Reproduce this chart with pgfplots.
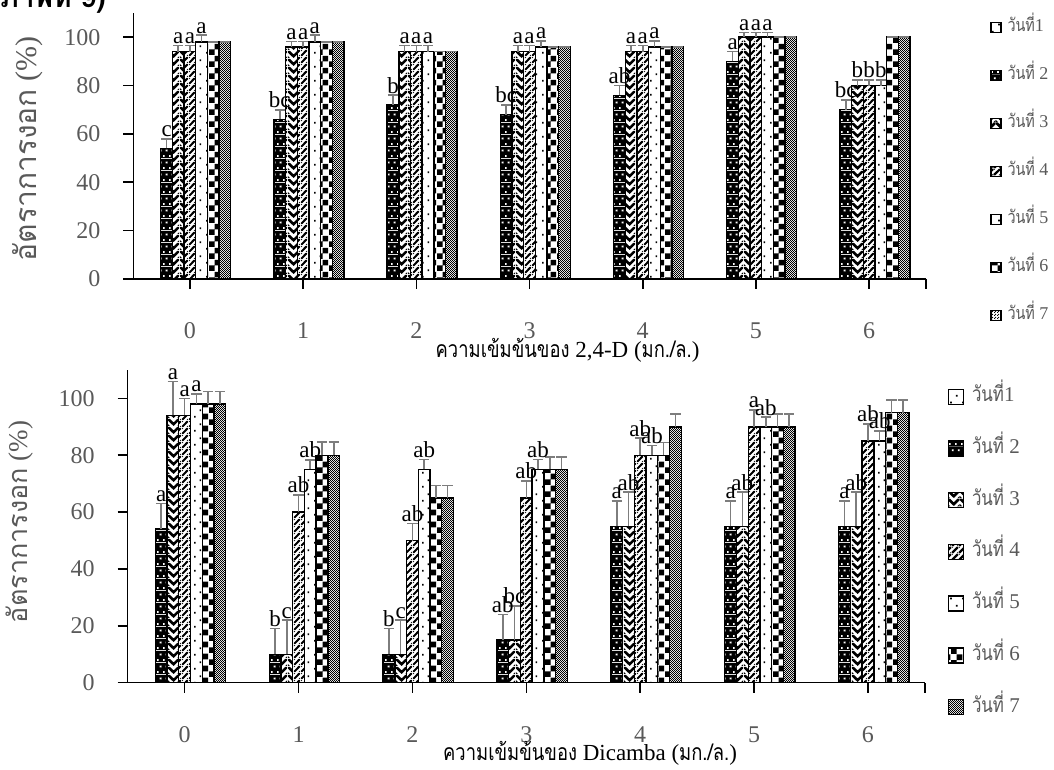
\documentclass[border=0pt]{standalone}
\usepackage{fontspec}
\setmainfont{Liberation Serif}
\newfontfamily\thai[Script=Thai]{Loma}
\usepackage{graphicx}
\usepackage{pgfplots}
\pgfplotsset{compat=1.18}
\usepackage{pgfplotstable}
\usetikzlibrary{patterns}

\definecolor{tg}{RGB}{89,89,89}
\definecolor{eg}{RGB}{125,125,125}

\newcommand{\tht}[1]{\scalebox{0.8}[1]{\thai #1}}
\newcommand{\wanthi}[1]{\tht{วันที่}#1}

\pgfdeclarepatternformonly{sparsedots}{\pgfpointorigin}{\pgfqpoint{6pt}{7pt}}{\pgfqpoint{6pt}{7pt}}{%
  \pgfpathrectangle{\pgfqpoint{1.1pt}{1.3pt}}{\pgfqpoint{0.9pt}{0.9pt}}%
  \pgfpathrectangle{\pgfqpoint{4.1pt}{4.8pt}}{\pgfqpoint{0.9pt}{0.9pt}}%
  \pgfusepath{fill}%
}
\pgfdeclarepatterninherentlycolored{blackdots}{\pgfpointorigin}{\pgfqpoint{3pt}{6pt}}{\pgfqpoint{3pt}{6pt}}{%
  \pgfsetfillcolor{black}%
  \pgfpathrectangle{\pgfpointorigin}{\pgfqpoint{3pt}{6pt}}%
  \pgfusepath{fill}%
  \pgfsetfillcolor{white}%
  \pgfpathrectangle{\pgfqpoint{0.6pt}{0.6pt}}{\pgfqpoint{0.9pt}{0.9pt}}%
  \pgfpathrectangle{\pgfqpoint{2.1pt}{3.6pt}}{\pgfqpoint{0.9pt}{0.9pt}}%
  \pgfusepath{fill}%
}
% zig zag (chevrons)
\pgfdeclarepatternformonly{zigzag}{\pgfpointorigin}{\pgfqpoint{6pt}{4pt}}{\pgfqpoint{6pt}{4pt}}{%
  \pgfpathmoveto{\pgfqpoint{0pt}{3pt}}%
  \pgfpathlineto{\pgfqpoint{3pt}{0pt}}%
  \pgfpathlineto{\pgfqpoint{6pt}{3pt}}%
  \pgfpathlineto{\pgfqpoint{6pt}{4pt}}%
  \pgfpathlineto{\pgfqpoint{5pt}{4pt}}%
  \pgfpathlineto{\pgfqpoint{3pt}{2pt}}%
  \pgfpathlineto{\pgfqpoint{1pt}{4pt}}%
  \pgfpathlineto{\pgfqpoint{0pt}{4pt}}%
  \pgfpathclose%
  \pgfpathmoveto{\pgfqpoint{0pt}{0pt}}%
  \pgfpathlineto{\pgfqpoint{1pt}{0pt}}%
  \pgfpathlineto{\pgfqpoint{0pt}{1pt}}%
  \pgfpathclose%
  \pgfpathmoveto{\pgfqpoint{5pt}{0pt}}%
  \pgfpathlineto{\pgfqpoint{6pt}{0pt}}%
  \pgfpathlineto{\pgfqpoint{6pt}{1pt}}%
  \pgfpathclose%
  \pgfusepath{fill}%
}
\pgfdeclarepatternformonly{wup}{\pgfpointorigin}{\pgfqpoint{3.5pt}{3.5pt}}{\pgfqpoint{3.5pt}{3.5pt}}{%
  \pgfpathmoveto{\pgfqpoint{0pt}{0pt}}%
  \pgfpathlineto{\pgfqpoint{0.85pt}{0pt}}%
  \pgfpathlineto{\pgfqpoint{3.5pt}{2.65pt}}%
  \pgfpathlineto{\pgfqpoint{3.5pt}{3.5pt}}%
  \pgfpathlineto{\pgfqpoint{2.65pt}{3.5pt}}%
  \pgfpathlineto{\pgfqpoint{0pt}{0.85pt}}%
  \pgfpathclose%
  \pgfpathmoveto{\pgfqpoint{2.65pt}{0pt}}%
  \pgfpathlineto{\pgfqpoint{3.5pt}{0pt}}%
  \pgfpathlineto{\pgfqpoint{3.5pt}{0.85pt}}%
  \pgfpathclose%
  \pgfpathmoveto{\pgfqpoint{0pt}{2.65pt}}%
  \pgfpathlineto{\pgfqpoint{0.85pt}{3.5pt}}%
  \pgfpathlineto{\pgfqpoint{0pt}{3.5pt}}%
  \pgfpathclose%
  \pgfusepath{fill}%
}
\pgfdeclarepatternformonly{bigcheck}{\pgfpointorigin}{\pgfqpoint{5.8pt}{5.8pt}}{\pgfqpoint{5.8pt}{5.8pt}}{%
  \pgfpathrectangle{\pgfpointorigin}{\pgfqpoint{2.9pt}{2.9pt}}%
  \pgfpathrectangle{\pgfqpoint{2.9pt}{2.9pt}}{\pgfqpoint{2.9pt}{2.9pt}}%
  \pgfusepath{fill}%
}
\pgfdeclarepatternformonly{finecheck}{\pgfpointorigin}{\pgfqpoint{1.2pt}{1.2pt}}{\pgfqpoint{1.2pt}{1.2pt}}{%
  \pgfpathrectangle{\pgfpointorigin}{\pgfqpoint{0.6pt}{0.6pt}}%
  \pgfpathrectangle{\pgfqpoint{0.6pt}{0.6pt}}{\pgfqpoint{0.6pt}{0.6pt}}%
  \pgfusepath{fill}%
}

% 2,4-D panel: values (%), errors, letters
\pgfplotstableread{
x d1 d2 d3 d4 d5 d6 d7 e2 e3 e4 e5 e6 e7 l2 l3 l4 l5
0 0 54 94 94 98 98 98 4 2.5 2.5 2.8 0 0 c a a a
1 0 66 96 96 98 98 98 4 2.2 2.2 2.8 0 0 bc a a a
2 0 72 94 94 94 94 94 4 2.5 2.5 2.5 0 0 b a a a
3 0 68 94 94 96 96 96 4 2.5 2.5 2.5 0 0 bc a a a
4 0 76 94 94 96 96 96 4 2.5 2.5 2.5 0 0 ab a a a
5 0 90 100 100 100 100 100 4 2 2 2 0 0 a a a a
6 0 70 80 80 80 100 100 4 2.3 2.3 2.3 0 0 bc b b b
}\tabA

% Dicamba panel
\pgfplotstableread{
x d1 d2 d3 d4 d5 d6 d7 e2 e3 e4 e5 e6 e7 l2 l3 l4 l5
0 0 54 94 94 98 98 98 9 12 6 3.6 4.5 4.5 a a a a
1 0 10 10 60 75 80 80 9 12 6 3.4 4.6 4.6 b c ab ab
2 0 10 10 50 75 65 65 9 12 6 3.5 4.4 4.4 b c ab ab
3 0 15 15 65 75 75 75 9 12 6 3.5 4.3 4.3 ab bc ab ab
4 0 55 55 80 80 80 90 9 12 6 3.4 4.5 4.5 a ab ab ab
5 0 55 55 90 90 90 90 9 12 6 3.4 4.5 4.5 a ab a ab
6 0 55 55 85 85 95 95 9 12 6 3.5 4.4 4.4 a ab ab ab
}\tabB

\pgfplotsset{
  panel/.style={
    scale only axis, anchor=south west,
    ybar=0pt, bar width=0.103,
    xmin=-0.5, xmax=6.5, ymin=0, ymax=110,
    axis x line*=bottom, axis y line*=left,
    xtick={0,1,2,3,4,5,6},
    extra x ticks={6.5}, extra x tick labels={},
    ytick={0,20,40,60,80,100},
    tick align=outside, major tick length=5pt,
    tick style={black, line width=0.8pt},
    axis line style={black, line width=0.8pt},
    /pgf/number format/assume math mode=true,
    ticklabel style={font=\fontsize{12}{14}\selectfont, text=tg},
    xticklabel style={anchor=center, yshift=-21pt},
    yticklabel style={xshift=-8pt},
    legend cell align=left,
  },
  bs/.style={draw=black, line width=0.7pt},
  eb/.style={error bars/y dir=plus, error bars/y explicit,
     error bars/error bar style={eg, line width=0.8pt},
     error bars/error mark options={rotate=90, eg, mark size=2.6pt, line width=0.8pt}},
  lab/.style={nodes near coords, point meta=explicit symbolic,
     visualization depends on={\thisrow{#1}\as\myerr},
     every node near coord/.append style={shift={(axis direction cs:0,\myerr)},
       font=\fontsize{11.5}{12}\selectfont, text=black, inner sep=0.6pt,
       fill=none, draw=none}},
}

\begin{document}
\begin{tikzpicture}
\useasboundingbox (0,0) rectangle (527pt,385pt);
\node[anchor=base west, inner sep=0pt, font=\thai\bfseries\fontsize{14}{16}\selectfont] at (0pt,381pt) {ภาพที่ 9)};

\begin{axis}[panel, at={(66.67pt,245.5pt)}, width=396.2pt, height=133pt,
  xlabel={\tht{ความเข้มข้นของ} 2,4-D (\tht{มก./ล.})},
  xlabel style={at={(axis description cs:0.548,-0.2955)}, anchor=base, font=\fontsize{11.5}{14}\selectfont, text=black},
  ylabel={{\thai อัตราการงอก} (\%)},
  ylabel style={at={(axis description cs:-0.133,0.489)}, anchor=center, font=\fontsize{15}{17}\selectfont, text=tg},
  legend style={at={(1.081,0.405)}, anchor=west, draw=none, fill=none, inner sep=0pt,
    column sep=3pt, row sep=14pt, font=\fontsize{9}{10}\selectfont,
    nodes={inner sep=0pt, text height=7pt, text depth=3pt, text=tg}},
  legend image code/.code={\draw[#1, line width=0.6pt] (0pt,-2.5pt) rectangle (5pt,2.5pt);},
]
\addplot[bs, pattern=sparsedots] table[x=x,y=d1]{\tabA};
\addplot[bs, pattern=blackdots, eb, lab=e2] table[x=x,y=d2,y error=e2,meta=l2]{\tabA};
\addplot[bs, pattern=zigzag, eb, lab=e3] table[x=x,y=d3,y error=e3,meta=l3]{\tabA};
\addplot[bs, pattern=wup, eb, lab=e4] table[x=x,y=d4,y error=e4,meta=l4]{\tabA};
\addplot[bs, pattern=sparsedots, eb, lab=e5] table[x=x,y=d5,y error=e5,meta=l5]{\tabA};
\addplot[bs, pattern=bigcheck, eb] table[x=x,y=d6,y error=e6]{\tabA};
\addplot[bs, pattern=finecheck, eb] table[x=x,y=d7,y error=e7]{\tabA};
\legend{\wanthi{1},\wanthi{ 2},\wanthi{ 3},\wanthi{ 4},\wanthi{ 5},\wanthi{ 6},\wanthi{ 7}}
\end{axis}

\begin{axis}[panel, at={(63.85pt,43.65pt)}, width=398.6pt, height=156.35pt,
  xlabel={\tht{ความเข้มข้นของ} Dicamba (\tht{มก./ล.})},
  xlabel style={at={(axis description cs:0.58,-0.2504)}, anchor=base, font=\fontsize{11.5}{14}\selectfont, text=black},
  ylabel={{\thai อัตราการงอก} (\%)},
  ylabel style={at={(axis description cs:-0.135,0.514)}, anchor=center, font=\fontsize{13.5}{15}\selectfont, text=tg},
  legend style={at={(1.028,0.418)}, anchor=west, draw=none, fill=none, inner sep=0pt,
    column sep=4pt, row sep=14.85pt, font=\fontsize{10.5}{12}\selectfont,
    nodes={inner sep=0pt, text height=8pt, text depth=3pt, text=tg}},
  legend image code/.code={\draw[#1, line width=0.7pt] (0pt,-3.75pt) rectangle (7.5pt,3.75pt);},
]
\addplot[bs, pattern=sparsedots] table[x=x,y=d1]{\tabB};
\addplot[bs, pattern=blackdots, eb, lab=e2] table[x=x,y=d2,y error=e2,meta=l2]{\tabB};
\addplot[bs, pattern=zigzag, eb, lab=e3] table[x=x,y=d3,y error=e3,meta=l3]{\tabB};
\addplot[bs, pattern=wup, eb, lab=e4] table[x=x,y=d4,y error=e4,meta=l4]{\tabB};
\addplot[bs, pattern=sparsedots, eb, lab=e5] table[x=x,y=d5,y error=e5,meta=l5]{\tabB};
\addplot[bs, pattern=bigcheck, eb] table[x=x,y=d6,y error=e6]{\tabB};
\addplot[bs, pattern=finecheck, eb] table[x=x,y=d7,y error=e7]{\tabB};
\legend{\wanthi{1},\wanthi{ 2},\wanthi{ 3},\wanthi{ 4},\wanthi{ 5},\wanthi{ 6},\wanthi{ 7}}
\end{axis}
\end{tikzpicture}
\end{document}
